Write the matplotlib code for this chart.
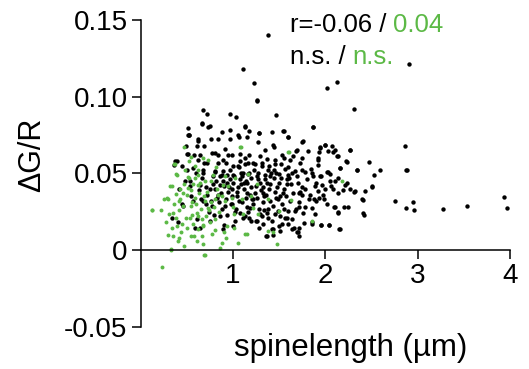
import matplotlib
matplotlib.use("Agg")
import matplotlib.pyplot as plt

plt.rcParams['font.family'] = ['Liberation Sans', 'DejaVu Sans']

# spine length (um) vs dG/R, black group
black_x = [0.67, 0.715, 0.964, 1.03, 0.51, 0.667, 0.73, 1.13, 0.877, 0.964, 0.523, 0.618, 0.76, 0.834,
           0.967, 1.06, 1.15, 0.607, 0.69, 0.913, 0.51, 0.77, 0.84, 0.95, 1.076, 1.17, 0.39, 0.624, 0.92,
           1.13, 1.22, 0.364, 0.5, 0.675, 0.805, 0.86, 1.0, 1.094, 1.16,
           1.257, 2.31, 1.463, 1.867, 1.28, 1.42, 1.545, 1.596, 1.75, 1.274, 1.44, 2.0, 2.08, 1.94, 2.27,
           1.68, 1.81, 1.35, 1.93, 2.03, 1.645, 2.13, 1.55, 1.744, 1.365, 1.92, 2.22, 1.52, 1.726, 1.925,
           1.31, 1.39, 1.6, 1.744, 1.78, 2.16, 2.34, 2.015, 2.05, 1.67, 1.5, 1.274, 1.347, 1.867, 1.94,
           1.4, 1.6, 2.14,
           0.336, 0.4, 0.45, 0.59, 0.9, 1.02, 1.13,
           2.1, 2.21, 2.27, 2.32, 2.4, 2.14, 2.08, 1.98, 2.09, 2.2, 2.14, 2.16, 2.41, 2.04, 1.95, 1.85,
           1.77, 1.71, 1.66, 1.69, 1.5, 1.36, 1.43, 1.89, 1.85, 1.82, 1.9, 1.92, 1.96, 1.89, 1.78, 1.745,
           1.71, 1.76, 1.6, 1.56, 1.64, 1.455, 1.38, 1.31, 1.26, 1.28, 1.42, 1.51,
           1.553, 1.6, 1.76, 2.0, 2.07, 1.94, 2.86, 2.1, 2.27, 2.14, 2.47, 2.23, 1.92, 2.34, 2.59, 2.87,
           2.53, 2.16, 2.03, 2.5, 2.43, 2.23, 2.31, 2.41, 2.25, 2.42, 2.755, 2.87, 2.95, 2.96, 3.27, 3.53,
           3.93, 3.965, 2.14, 2.1, 2.04, 2.15, 1.95, 1.7, 1.85, 2.907, 2.885, 2.51,
           1.383, 1.11, 1.227, 1.257, 0.66, 0.75, 1.125, 1.05, 1.177, 1.285, 0.516, 2.13, 2.015, 1.863,
           0.52, 0.49, 0.62, 0.37, 0.505, 0.64, 0.715, 0.805, 0.895, 0.986, 1.076, 1.166, 1.29, 1.437,
           1.53, 1.62, 1.69, 0.57, 0.68, 0.787, 0.895, 0.967, 1.11, 1.15, 1.257, 1.365, 1.47, 1.58, 1.69,
           0.534, 0.64, 0.75, 0.84, 0.86, 0.986, 1.04, 1.15, 1.22, 1.33, 1.4, 1.51, 1.62, 1.71, 0.46, 0.57,
           0.68, 0.77, 0.877, 0.986, 1.076, 1.184, 1.29, 1.38, 1.49, 1.58, 1.67, 0.607, 0.75, 0.86, 1.0,
           1.11, 1.2, 1.33, 1.365, 1.437, 1.53, 1.636, 1.71, 0.64, 0.895,
           0.82, 0.9, 0.95, 1.0, 1.05, 1.08, 1.12, 1.18, 1.2, 1.25, 1.3, 1.35, 1.4, 1.45, 1.5, 1.55, 0.92,
           0.98, 1.03, 1.1, 1.15, 1.22, 1.28, 1.33, 1.43, 1.47, 1.53, 0.88, 0.97, 1.06, 1.13, 1.23, 1.31,
           1.38, 1.46, 1.56, 1.64, 1.7, 1.75, 1.8, 1.85, 1.9, 1.95, 2.0, 2.05, 1.65, 1.72, 1.78, 1.83,
           1.88, 1.97, 2.02, 0.72, 0.78, 0.66, 0.74, 0.85, 0.94, 1.17, 1.25, 1.42, 1.6, 0.69, 0.58, 0.63,
           0.55, 0.45, 0.48, 0.42,
           # extra points in the dense core
           0.8, 0.87, 0.93, 0.99, 1.04, 1.09, 1.14, 1.19, 1.24, 1.29, 1.34, 1.39, 1.44, 1.49, 1.54, 1.59,
           0.83, 0.89, 0.96, 1.01, 1.07, 1.12, 1.17, 1.21, 1.27, 1.32, 1.36, 1.41, 1.48, 1.52, 1.57, 1.63,
           0.76, 0.81, 0.91, 1.02, 1.09, 1.16, 1.26, 1.34, 1.44, 1.51, 1.61, 1.68, 0.71, 0.79, 0.93, 1.05,
           1.14, 1.24, 1.37, 1.46, 1.55, 1.73, 1.84, 1.93, 2.06, 2.19, 0.6, 0.65, 0.53, 0.71, 0.84, 1.0]
black_y = [0.0913, 0.089, 0.0887, 0.0865, 0.0796, 0.0822, 0.080, 0.080, 0.0767, 0.078, 0.0748, 0.0724, 0.0726, 0.0724,
           0.0722, 0.074, 0.0735, 0.068, 0.068, 0.066, 0.0627, 0.0633, 0.0622, 0.0622, 0.0627, 0.0622, 0.0579, 0.059, 0.057,
           0.060, 0.0568, 0.0557, 0.0525, 0.0525, 0.0514, 0.048, 0.0546, 0.048, 0.0497,
           0.0975, 0.092, 0.0882, 0.080, 0.0763, 0.0767, 0.0774, 0.0735, 0.0703, 0.0702, 0.067, 0.0687, 0.064, 0.0666, 0.065,
           0.0644, 0.0644, 0.065, 0.064, 0.0644, 0.061, 0.061, 0.060, 0.060, 0.0594, 0.059, 0.0579, 0.0564, 0.0568, 0.0553,
           0.0568, 0.055, 0.054, 0.0525, 0.051, 0.0536, 0.0525, 0.051, 0.0499, 0.0514, 0.0499, 0.0503, 0.049, 0.048, 0.048,
           0.048, 0.049, 0.047,
           0.021, 0.018, 0.030, 0.0146, 0.016, 0.019, 0.022,
           0.0449, 0.0427, 0.0395, 0.0384, 0.033, 0.0373, 0.0395, 0.033, 0.0282, 0.028, 0.0243, 0.0139, 0.024, 0.016, 0.0162, 0.0171,
           0.0178, 0.0146, 0.0146, 0.0117, 0.0154, 0.0089, 0.0096, 0.0232, 0.0276, 0.033, 0.032, 0.0384, 0.0427, 0.0416, 0.0395, 0.0362,
           0.028, 0.0243, 0.0254, 0.021, 0.020, 0.0232, 0.021, 0.0221, 0.0189, 0.0146, 0.0135, 0.0124,
           0.0774, 0.0737, 0.0709, 0.0687, 0.0676, 0.0672, 0.068, 0.065, 0.065, 0.0616, 0.0572, 0.0575, 0.060, 0.0525, 0.052, 0.052,
           0.049, 0.0536, 0.051, 0.0416, 0.0388, 0.0438, 0.038, 0.0323, 0.028, 0.0226, 0.0319, 0.0271, 0.0312, 0.026, 0.0265, 0.0284,
           0.0345, 0.0271, 0.0247, 0.028, 0.016, 0.0139, 0.016, 0.012, 0.0182, 0.1212, 0.052, 0.0414,
           0.1402, 0.118, 0.1088, 0.098, 0.0828, 0.081, 0.081, 0.0752, 0.0774, 0.0763, 0.0752, 0.1095, 0.1056, 0.080,
           0.075, 0.068, 0.071, 0.058, 0.0627, 0.0622, 0.0568, 0.0633, 0.059, 0.0622, 0.058, 0.0568, 0.0611, 0.0687,
           0.0622, 0.059, 0.0655, 0.0536, 0.0503, 0.0481, 0.0514, 0.046, 0.0503, 0.0438, 0.048, 0.0438, 0.0503, 0.046, 0.048,
           0.0449, 0.0427, 0.0395, 0.0362, 0.0427, 0.0395, 0.0351, 0.0373, 0.033, 0.0373, 0.0319, 0.0351, 0.0319, 0.0373, 0.0286, 0.0319,
           0.0319, 0.0286, 0.0265, 0.0297, 0.0243, 0.0276, 0.0232, 0.0265, 0.0254, 0.021, 0.0254, 0.020, 0.0189, 0.0221, 0.0156,
           0.021, 0.0189, 0.0167, 0.0091, 0.0135, 0.0167, 0.0135, 0.0091, 0.0146, 0.0135,
           0.045, 0.042, 0.038, 0.044, 0.041, 0.046, 0.040, 0.036, 0.047, 0.042, 0.039, 0.046, 0.043, 0.038, 0.044, 0.040, 0.033,
           0.030, 0.027, 0.031, 0.028, 0.030, 0.027, 0.031, 0.029, 0.034, 0.030, 0.049, 0.052, 0.054, 0.056, 0.052, 0.055,
           0.052, 0.056, 0.053, 0.050, 0.044, 0.041, 0.046, 0.050, 0.044, 0.048, 0.040, 0.045, 0.037, 0.031, 0.028, 0.036,
           0.033, 0.036, 0.030, 0.036, 0.043, 0.047, 0.025, 0.031, 0.023, 0.021, 0.019, 0.019, 0.017, 0.057, 0.062, 0.039,
           0.035, 0.055, 0.045, 0.040,
           0.040, 0.037, 0.044, 0.035, 0.038, 0.043, 0.034, 0.041, 0.037, 0.044, 0.035, 0.040, 0.047, 0.033, 0.037, 0.043,
           0.034, 0.045, 0.041, 0.048, 0.032, 0.044, 0.050, 0.033, 0.046, 0.041, 0.036, 0.050, 0.041, 0.047, 0.035, 0.043,
           0.032, 0.051, 0.029, 0.025, 0.050, 0.025, 0.034, 0.026, 0.052, 0.022, 0.047, 0.027, 0.041, 0.023, 0.049, 0.055,
           0.045, 0.056, 0.024, 0.059, 0.027, 0.038, 0.053, 0.034, 0.042, 0.039, 0.050, 0.033, 0.042, 0.030, 0.057, 0.049]

# green group
green_x = [0.47, 0.55, 0.37, 0.39, 0.59, 0.73, 0.675, 0.624, 0.815, 0.516, 1.087, 0.913, 1.16, 1.607,
           0.126, 0.22, 0.336, 0.28, 0.38, 0.46, 0.41, 0.307, 0.38, 0.336, 0.39, 0.353, 0.41, 0.33, 0.47,
           0.55, 0.5, 0.607, 0.624, 0.68, 0.693, 0.556, 0.624, 0.68, 0.805, 0.77, 0.877, 0.86, 0.924, 0.93,
           1.014, 1.057, 1.13, 0.75, 0.55, 0.65, 0.73, 0.46, 0.59, 0.7, 0.8, 0.913, 1.01, 1.11, 1.22, 0.43,
           0.516, 0.624, 0.76, 0.59, 0.52, 0.895, 0.986, 1.094, 1.15, 0.66,
           1.257, 1.38, 1.63, 1.5, 1.27, 1.86, 1.376, 1.43, 1.48, 2.18,
           0.227, 0.69, 0.33, 0.12, 0.30, 0.32, 0.36, 0.38, 1.076, 1.6,
           0.25, 0.27, 0.42, 0.44, 0.5, 0.53, 0.57, 0.6, 0.63, 0.66, 0.7, 0.72, 0.74, 0.78, 0.83, 0.85,
           0.88, 0.95, 1.0, 0.36, 0.48, 0.52, 0.62, 0.67, 0.8, 0.4, 0.58, 0.3, 0.45, 1.02, 1.2, 0.9,
           0.35, 0.43, 0.49, 0.56, 0.61, 0.69, 0.76, 0.84, 0.54, 0.64, 0.71, 0.47, 0.57, 0.79]
green_y = [0.0672, 0.0607, 0.0564, 0.049, 0.055, 0.059, 0.0602, 0.049, 0.0544, 0.0475, 0.067, 0.048, 0.0497, 0.064,
           0.026, 0.0258, 0.0416, 0.034, 0.0367, 0.0369, 0.0319, 0.0232, 0.0206, 0.0146, 0.0156, 0.0091, 0.008, -0.0002, 0.0024,
           0.0091, 0.0141, 0.0058, 0.0135, 0.0042, -0.0033, 0.0226, 0.0221, 0.0156, 0.0128, 0.0102, 0.0048, 0.0016, 0.0076, 0.0156,
           0.0146, 0.0048, 0.0102, 0.0186, 0.0286, 0.027, 0.0276, 0.029, 0.034, 0.0317, 0.033, 0.0319, 0.0238, 0.0232, 0.0276, 0.040,
           0.0406, 0.0427, 0.0447, 0.047, 0.047, 0.0427, 0.034, 0.033, 0.0102, 0.0091,
           0.0432, 0.033, 0.0323, 0.0254, 0.0232, 0.0189, 0.0124, 0.0117, 0.0042, 0.0449,
           -0.011, -0.0033, 0.0005, 0.0258, 0.0334, 0.0416, 0.0564, 0.0497, 0.0672, 0.0637,
           0.033, 0.018, 0.026, 0.012, 0.036, 0.021, 0.043, 0.030, 0.037, 0.020, 0.045, 0.038, 0.026, 0.049, 0.040, 0.025,
           0.035, 0.042, 0.028, 0.030, 0.052, 0.058, 0.052, 0.016, 0.020, 0.006, 0.009, 0.010, 0.017, 0.047, 0.035, 0.012,
           0.024, 0.033, 0.021, 0.031, 0.024, 0.035, 0.031, 0.036, 0.039, 0.044, 0.022, 0.043, 0.017, 0.028]

green = '#5cb946'
W, H = 529, 369
fig = plt.figure(figsize=(W / 100, H / 100), dpi=100)
ax = fig.add_axes([140.7 / W, 1 - 326.7 / H, (510 - 140.7) / W, (326.7 - 20) / H])

ax.scatter(black_x, black_y, s=10, color='black', linewidths=0, clip_on=False)
ax.scatter(green_x, green_y, s=8, color=green, linewidths=0, clip_on=False)

ax.set_xlim(0, 4)
ax.set_ylim(-0.05, 0.15)
ax.spines['top'].set_visible(False)
ax.spines['right'].set_visible(False)
ax.spines['bottom'].set_position(('data', 0))
ax.spines['bottom'].set_bounds(0, 4)
ax.spines['left'].set_bounds(-0.05, 0.15)
for sp in ('left', 'bottom'):
    ax.spines[sp].set_linewidth(1.1)

ax.set_xticks([1, 2, 3, 4])
ax.set_xticklabels(['1', '2', '3', '4'])
ax.set_yticks([-0.05, 0, 0.05, 0.10, 0.15])
ax.set_yticklabels(['-0.05', '0', '0.05', '0.10', '0.15'])
ax.tick_params(direction='out', length=6.5, width=1.1, labelsize=20, pad=3)

fig.text(351 / W, 1 - 348 / H, 'spinelength (µm)', fontsize=22.5, ha='center', va='center')
fig.text(32 / W, 1 - 155 / H, 'ΔG/R', fontsize=22, ha='center', va='center', rotation=90)

t1 = fig.text(290 / W, 1 - 25 / H, 'r=-0.06 / ', fontsize=18.5, va='center')
ax.annotate('0.04', xy=(1, 0), xycoords=t1, va='bottom', fontsize=18.5, color=green)
t2 = fig.text(290 / W, 1 - 57 / H, 'n.s. / ', fontsize=18.5, va='center')
ax.annotate('n.s.', xy=(1, 0), xycoords=t2, va='bottom', fontsize=18.5, color=green)

fig.savefig('out.png', dpi=100)
